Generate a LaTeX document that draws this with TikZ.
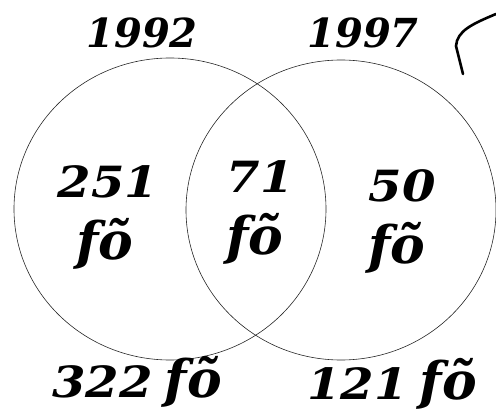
\documentclass[tikz,border=0pt]{standalone}
\usepackage{fontspec}
\setmainfont{DejaVu Serif}
\newcommand{\wnum}[1]{\scalebox{1.12}[1]{#1}}
\newcommand{\fo}{{\fontsize{52}{56}\selectfont fõ}}
\begin{document}
\begin{tikzpicture}[x=1pt,y=-1pt,
  ring/.style={draw=black!85,line width=0.6pt},
  lbl/.style={anchor=base,inner sep=0pt,font=\fontsize{40}{44}\selectfont\bfseries\itshape},
  big/.style={anchor=base,inner sep=0pt,font=\fontsize{43}{48}\selectfont\bfseries\itshape},
  hook/.style={draw=black,line width=2.6pt,line cap=round,line join=round}]
\useasboundingbox (0,0) rectangle (496,414);
\draw[ring] (170,209) ellipse [x radius=156, y radius=151];
\draw[ring] (341,210) ellipse [x radius=155, y radius=150];
\node[lbl] (y1) at (142,48) {1992};
\node[lbl] (y2) at (363,48) {1997};
\node[big] (a) at (108,198) {\wnum{251}};
\node[big] (af) at (105,260) {\fo};
\node[big] (b) at (260,193) {\wnum{71}};
\node[big] (bf) at (255,255) {\fo};
\node[big] (c) at (402,202) {\wnum{50}};
\node[big] (cf) at (397,264) {\fo};
\node[big] (t1) at (137,398) {\wnum{322}\hspace{12pt}\fo};
\node[big] (t2) at (392,400) {\wnum{121}\hspace{12pt}\fo};
\coordinate (h1) at (496,14);
\coordinate (h2) at (456,46);
\coordinate (h3) at (463,74);
\draw[hook] (h1) .. controls (472,24) and (457,31) .. (h2) -- (h3);
\end{tikzpicture}
\end{document}
